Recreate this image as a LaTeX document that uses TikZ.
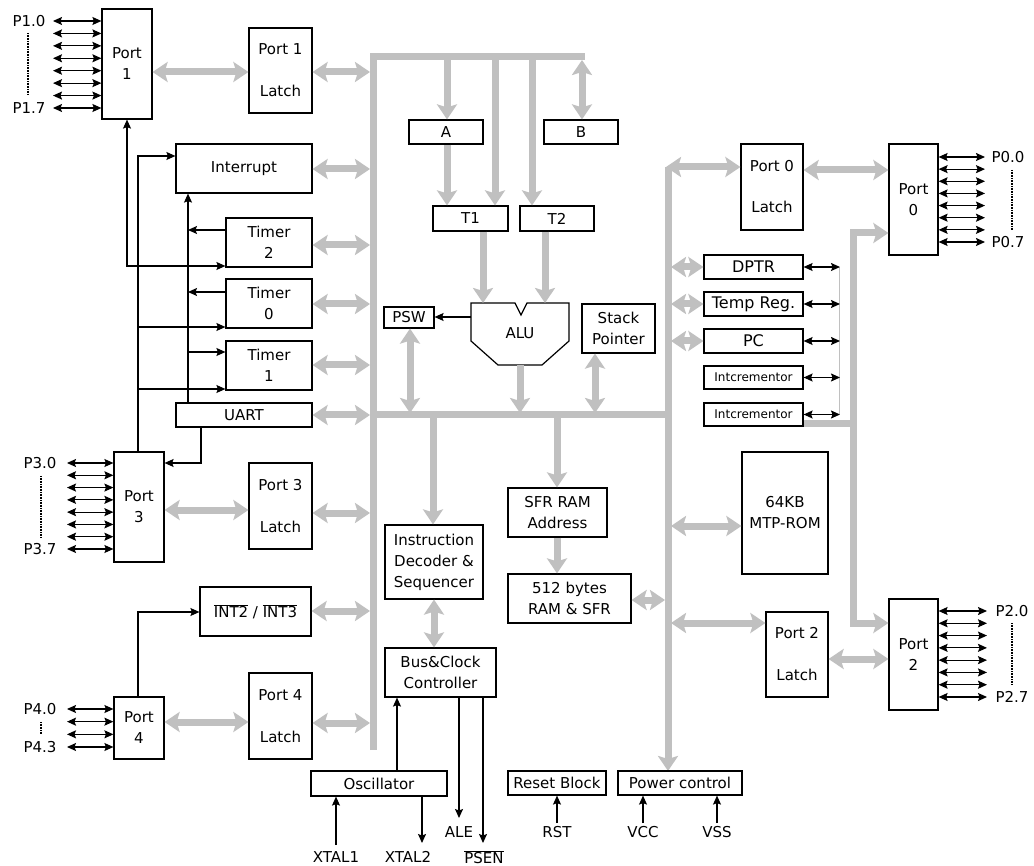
\documentclass[tikz,border=0pt]{standalone}
\usepackage{fontspec}
\setmainfont{DejaVu Sans}
\usetikzlibrary{arrows.meta}
\definecolor{busgray}{RGB}{192,192,192}
\newcommand\bxn[6]{\node[bx,minimum width={(#4)-(#2)},minimum height={(#5)-(#3)}] (#1) at ({((#2)+(#4))/2},{((#3)+(#5))/2}) {#6};}
\begin{document}
\begin{tikzpicture}[x=1pt,y=-1pt,
  bx/.style={draw, line width=1.2pt, inner sep=0pt, align=center, font=\fontsize{15}{21}\selectfont},
  lb/.style={inner sep=0pt, font=\fontsize{15}{18}\selectfont},
  GT/.tip={Stealth[length=15pt,width=20pt,inset=3pt]},
  BT/.tip={Stealth[length=9pt,width=8pt,inset=1.5pt]},
  gl/.style={draw=busgray, line width=7pt, line join=miter},
  ga/.style={gl, -GT},
  gda/.style={gl, GT-GT},
  bl/.style={draw=black, line width=1.2pt},
  ba/.style={bl, -BT},
  bda/.style={bl, BT-BT},
  dots/.style={line width=2.5pt, dash pattern=on 1pt off 0.6pt}]
\useasboundingbox (0,0) rectangle (1034,866);
\fill[white] (0,0) rectangle (1034,866);

% ---------- buses ----------
\draw[gl] (373,750) -- (373,57) -- (585,57);
\draw[gl] (370,415) -- (671,415);
\draw[gl,-GT] (668,167) -- (668,771);

% ---------- boxes ----------
\bxn{P1}{102}{9}{152}{119}{Port\\1}
\bxn{L1}{249}{28}{312}{113}{Port 1\\[21pt]Latch}
\bxn{INT}{176}{144}{312}{193}{Interrupt}
\bxn{TM2}{226}{218}{312}{267}{Timer\\2}
\bxn{TM0}{226}{279}{312}{328}{Timer\\0}
\bxn{TM1}{226}{341}{312}{390}{Timer\\1}
\bxn{UART}{176}{403}{312}{427}{UART}
\bxn{P3}{114}{452}{164}{562}{Port\\3}
\bxn{L3}{249}{463}{312}{549}{Port 3\\[21pt]Latch}
\bxn{INTX}{200}{587}{311}{636}{$\overline{\mbox{INT2}}$ / $\overline{\mbox{INT3}}$}
\bxn{P4}{114}{697}{164}{759}{Port\\4}
\bxn{L4}{249}{673}{312}{759}{Port 4\\[21pt]Latch}
\bxn{A}{409}{120}{483}{144}{A}
\bxn{B}{544}{120}{618}{144}{B}
\bxn{RT1}{433}{206}{508}{231}{T1}
\bxn{RT2}{520}{206}{594}{231}{T2}
\bxn{PSW}{384}{307}{434}{328}{PSW}
\bxn{SP}{582}{304}{655}{353}{Stack\\Pointer}
\bxn{IDS}{385}{525}{483}{599}{Instruction\\Decoder \&\\Sequencer}
\bxn{BCC}{385}{648}{496}{697}{Bus\&Clock\\Controller}
\bxn{OSC}{311}{771}{447}{796}{Oscillator}
\bxn{SFRA}{508}{488}{607}{537}{SFR RAM\\Address}
\bxn{RAM}{508}{574}{631}{623}{512 bytes\\RAM \& SFR}
\bxn{L0}{741}{144}{803}{230}{Port 0\\[20pt]Latch}
\bxn{P0}{889}{144}{938}{255}{Port\\0}
\bxn{DPTR}{704}{255}{803}{279}{\fontsize{16}{18}\selectfont DPTR}
\bxn{TMP}{704}{292}{803}{316}{\fontsize{16}{18}\selectfont Temp Reg.}
\bxn{PC}{704}{329}{803}{353}{\fontsize{16}{18}\selectfont PC}
\bxn{INCA}{704}{366}{803}{389}{\fontsize{12}{14}\selectfont Intcrementor}
\bxn{INCB}{704}{403}{803}{426}{\fontsize{12}{14}\selectfont Intcrementor}
\bxn{ROM}{742}{452}{828}{574}{64KB\\MTP-ROM}
\bxn{L2}{766}{612}{828}{697}{Port 2\\[21pt]Latch}
\bxn{P2}{889}{599}{938}{710}{Port\\2}
\bxn{RSTB}{508}{771}{606}{795}{Reset Block}
\bxn{PWR}{618}{771}{742}{795}{Power control}

% ALU
\node[lb] (ALU) at (520,333) {ALU};
\draw[line width=1.2pt, line join=miter] (471,303) -- (515,303) -- (521,315) -- (527,303) -- (569,303)
  -- (569,341) -- (542,365) -- (498,365) -- (471,341) -- cycle;

% ---------- pin labels ----------
\node[lb] (p10) at (29,21) {P1.0};
\node[lb] (p17) at (29,108) {P1.7};
\node[lb] (p30) at (40,463) {P3.0};
\node[lb] (p37) at (40,549) {P3.7};
\node[lb] (p40) at (40,709) {P4.0};
\node[lb] (p43) at (40,747) {P4.3};
\node[lb] (p00) at (1008,157) {P0.0};
\node[lb] (p07) at (1008,242) {P0.7};
\node[lb] (p20) at (1012,611) {P2.0};
\node[lb] (p27) at (1012,697) {P2.7};
\draw[dots] (28,33) -- (28,95);
\draw[dots] (41,476) -- (41,537);
\draw[dots] (41,722) -- (41,734);
\draw[dots] (1012,170) -- (1012,230);
\draw[dots] (1012,623) -- (1012,685);

\foreach \i in {0,...,7}{\pgfmathsetmacro\yy{21+\i*87/7}\draw[bda] (53,\yy) -- (P1.west |- 0,\yy);}
\foreach \i in {0,...,7}{\pgfmathsetmacro\yy{463+\i*86/7}\draw[bda] (67,\yy) -- (P3.west |- 0,\yy);}
\foreach \i in {0,...,3}{\pgfmathsetmacro\yy{709+\i*38/3}\draw[bda] (67,\yy) -- (P4.west |- 0,\yy);}
\foreach \i in {0,...,7}{\pgfmathsetmacro\yy{157+\i*85/7}\draw[bda] (P0.east |- 0,\yy) -- (985,\yy);}
\foreach \i in {0,...,7}{\pgfmathsetmacro\yy{611+\i*86/7}\draw[bda] (P2.east |- 0,\yy) -- (987,\yy);}

% ---------- gray connectors, left side ----------
\draw[gda] (P1.east |- 0,72) -- (L1.west |- 0,72);
\draw[gda] (L1.east |- 0,72) -- (370,72);
\draw[gda] (INT.east |- 0,169) -- (370,169);
\draw[gda] (TM2.east |- 0,245) -- (370,245);
\draw[gda] (TM0.east |- 0,304) -- (370,304);
\draw[gda] (TM1.east |- 0,365) -- (370,365);
\draw[gda] (UART.east) -- (370,415);
\draw[gda] (P3.east |- 0,510) -- (L3.west |- 0,510);
\draw[gda] (L3.east |- 0,513) -- (370,513);
\draw[gda] (INTX.east |- 0,611) -- (370,611);
\draw[gda] (P4.east |- 0,722) -- (L4.west |- 0,722);
\draw[gda] (L4.east |- 0,723) -- (370,723);

% ---------- gray connectors, core ----------
\draw[ga] (447,57) -- (A.north -| 447,0);
\draw[ga] (495,57) -- (RT1.north -| 495,0);
\draw[ga] (532,57) -- (RT2.north -| 532,0);
\draw[gda] (582,60) -- (B.north -| 582,0);
\draw[ga] (A.south -| 447,0) -- (RT1.north -| 447,0);
\draw[ga] (RT1.south -| 483,0) -- (483,303);
\draw[ga] (RT2.south -| 545,0) -- (545,303);
\draw[gda] (PSW.south -| 410,0) -- (410,413);
\draw[ga] (520,365) -- (520,413);
\draw[gda] (SP.south -| 595,0) -- (595,413);
\draw[ga] (433,415) -- (IDS.north -| 433,0);
\draw[ga] (557,415) -- (SFRA.north -| 557,0);
\draw[ga] (SFRA.south -| 557,0) -- (RAM.north -| 557,0);
\draw[gda] (IDS.south -| 434,0) -- (BCC.north -| 434,0);
\draw[gda] (RAM.east |- 0,600) -- (665,600);

% ---------- gray connectors, right side ----------
\draw[gda] (666,167) -- (L0.west |- 0,167);
\draw[gda] (L0.east |- 0,170) -- (P0.west |- 0,170);
\draw[gda] (671,267) -- (DPTR.west);
\draw[gda] (671,304) -- (TMP.west);
\draw[gda] (671,341) -- (PC.west);
\draw[gda] (671,526) -- (ROM.west |- 0,526);
\draw[gda] (671,623) -- (L2.west |- 0,623);
\draw[gda] (L2.east |- 0,659) -- (P2.west |- 0,659);
\draw[gl,-GT] (INCB.east |- 0,424) -- (853,424) -- (853,233) -- (P0.west |- 0,233);
\draw[gl,-GT] (853,424) -- (853,623) -- (P2.west |- 0,623);
\draw[busgray, line width=1pt] (839,267) -- (839,414);
\foreach \n in {DPTR,TMP,PC,INCA,INCB}{\draw[bda] (\n.east) -- (\n.east -| 840,0);}

% ---------- black connectors, left ----------
\draw[bl,BT-BT] (P1.south -| 127,0) -- (127,266) -- (TM2.west |- 0,266);
\draw[ba] (P3.north -| 138,0) -- (138,156) -- (INT.west |- 0,156);
\draw[ba] (138,327) -- (TM0.west |- 0,327);
\draw[ba] (138,389) -- (TM1.west |- 0,389);
\draw[ba] (UART.north -| 188,0) -- (INT.south -| 188,0);
\draw[ba] (TM2.west |- 0,230) -- (188,230);
\draw[ba] (TM0.west |- 0,292) -- (188,292);
\draw[ba] (188,352) -- (TM1.west |- 0,352);
\draw[ba] (UART.south -| 201,0) -- (201,463) -- (P3.east |- 0,463);
\draw[ba] (P4.north -| 138,0) -- (138,612) -- (INTX.west |- 0,612);
\draw[ba] (471,317) -- (PSW.east |- 0,317);

% ---------- bottom signals ----------
\draw[ba] (OSC.north -| 397,0) -- (BCC.south -| 397,0);
\node[lb] (ALE) at (459,832) {ALE};
\node[lb] (PSEN) at (484,857) {$\overline{\mbox{PSEN}}$};
\node[lb] (X1) at (336,857) {XTAL1};
\node[lb] (X2) at (408,857) {XTAL2};
\node[lb] (RST) at (557,832) {RST};
\node[lb] (VCC) at (643,832) {VCC};
\node[lb] (VSS) at (717,832) {VSS};
\draw[ba] (BCC.south -| 459,0) -- (459,818);
\draw[ba] (BCC.south -| 483,0) -- (483,843);
\draw[ba] (336,845) -- (OSC.south -| 336,0);
\draw[ba] (OSC.south -| 422,0) -- (422,843);
\draw[ba] (RST.north) ++(0,-3) -- (RSTB.south -| RST.north);
\draw[ba] (VCC.north) ++(0,-3) -- (PWR.south -| VCC.north);
\draw[ba] (VSS.north) ++(0,-3) -- (PWR.south -| VSS.north);
\end{tikzpicture}
\end{document}
